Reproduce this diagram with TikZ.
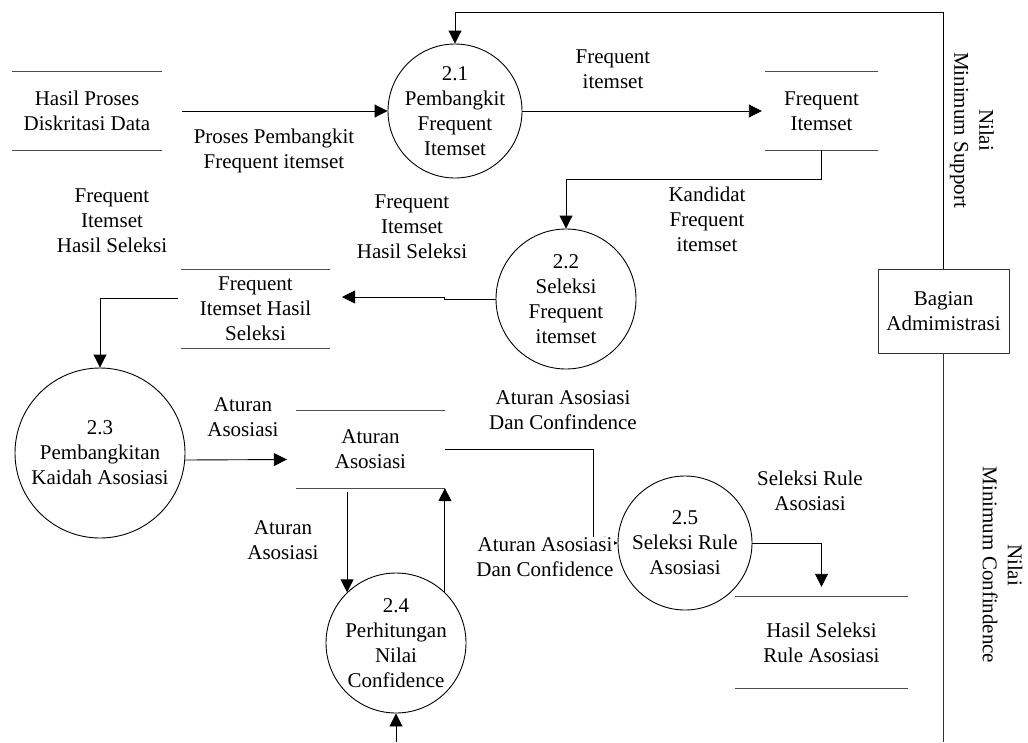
\documentclass[tikz,border=0pt]{standalone}
\usepackage{fontspec}
\setmainfont{Liberation Serif}
\usetikzlibrary{arrows.meta,calc}
\begin{document}
\begin{tikzpicture}[x=1pt,y=-1pt,
  every node/.style={font=\fontsize{21}{25}\selectfont, align=center, inner sep=0pt},
  proc/.style={circle, draw, line width=0.9pt, minimum size=#1},
  store/.style={draw=none},
  storeline/.style={line width=1pt, draw=black!70},
  entity/.style={draw=black!80, line width=1pt},
  flow/.style={-{Triangle[length=13pt,width=13pt]}, line width=0.9pt},
  link/.style={line width=0.9pt, draw=black!80},
  lbl/.style={fill=white}]
\useasboundingbox (0,0) rectangle (1028,742);

% data stores (open rectangles)
\node[store, minimum width=150pt, minimum height=78pt] (s1) at (87,111) {Hasil Proses\\Diskritasi Data};
\node[store, minimum width=113pt, minimum height=78pt] (s2) at (821.5,111) {Frequent\\Itemset};
\node[store, minimum width=149pt, minimum height=78pt] (s3) at (255.5,309) {Frequent\\Itemset Hasil\\Seleksi};
\node[store, minimum width=149pt, minimum height=77pt] (s4) at (370.5,449.5) {Aturan\\Asosiasi};
\node[store, minimum width=173pt, minimum height=91pt] (s5) at (821.5,642.5) {Hasil Seleksi\\Rule Asosiasi};
\foreach \s in {s1,s2,s3,s4,s5}
  \draw[storeline] (\s.north west) -- (\s.north east) (\s.south west) -- (\s.south east);

% processes
\node[proc=134pt] (p21) at (455,111) {2.1\\Pembangkit\\Frequent\\Itemset};
\node[proc=140pt] (p22) at (566,299) {2.2\\Seleksi\\Frequent\\itemset};
\node[proc=170pt] (p23) at (100,453) {2.3\\Pembangkitan\\Kaidah Asosiasi};
\node[proc=140pt] (p24) at (396,643) {2.4\\Perhitungan\\Nilai\\Confidence};
\node[proc=134pt] (p25) at (685,543) {2.5\\Seleksi Rule\\Asosiasi};

% external entity
\node[entity, minimum width=131pt, minimum height=84pt] (adm) at (943.5,311) {Bagian\\Admimistrasi};

% free ends and bends
\coordinate (tc) at (943.5,12);
\coordinate (bb) at (943.5,742);
\coordinate (b4) at (396,742);
\coordinate (j3) at (342,297);

% flows
\draw[flow] ([xshift=20pt]s1.east) -- (p21.west);
\draw[flow] (p21.east) -- ([xshift=-3pt]s2.west);
\draw[flow] (s2.south) -- ++(0,29) -| (p22.north);
\draw[flow] (p22.west) -- ++(-51,0) |- (j3);
\draw[flow] ([xshift=-3pt,yshift=11pt]s3.west) -| (p23.north);
\draw[flow] ([yshift=-7pt]p23.east) -- ([xshift=-9pt,yshift=-10pt]s4.west);
\draw[flow] (s4.east) -- ++(148,0) |- (p25.west);
\draw[flow] ([yshift=-4pt]s4.south -| p24.134) -- (p24.134);
\draw[flow] (p24.46) -- (p24.46 |- s4.south);
\draw[flow] (b4) -- (p24.south);
\draw[flow] (p25.east) -| ([yshift=10pt]s5.north);
\draw[flow] (adm.north) -- (tc) -| (p21.north);
\draw[link] (adm.south) -- (bb);

% flow labels
\node at (613,69) {Frequent\\itemset};
\node at (274,151) {Proses Pembangkit\\Frequent itemset};
\node at (707,219) {Kandidat\\Frequent\\itemset};
\node at (412,227) {Frequent\\Itemset\\Hasil Seleksi};
\node at (112,221) {Frequent\\Itemset\\Hasil Seleksi};
\node at (243,417) {Aturan\\Asosiasi};
\node at (563,410) {Aturan Asosiasi\\Dan Confindence};
\node at (283,540) {Aturan\\Asosiasi};
\node[lbl] at (545,557) {Aturan Asosiasi\\Dan Confidence};
\node at (810,491) {Seleksi Rule\\Asosiasi};
\node[rotate=-90] at (972,130) {Nilai\\Minimum Support};
\node[rotate=-90] at (1002.5,565) {Nilai\\Minimum Confindence};
\end{tikzpicture}
\end{document}
